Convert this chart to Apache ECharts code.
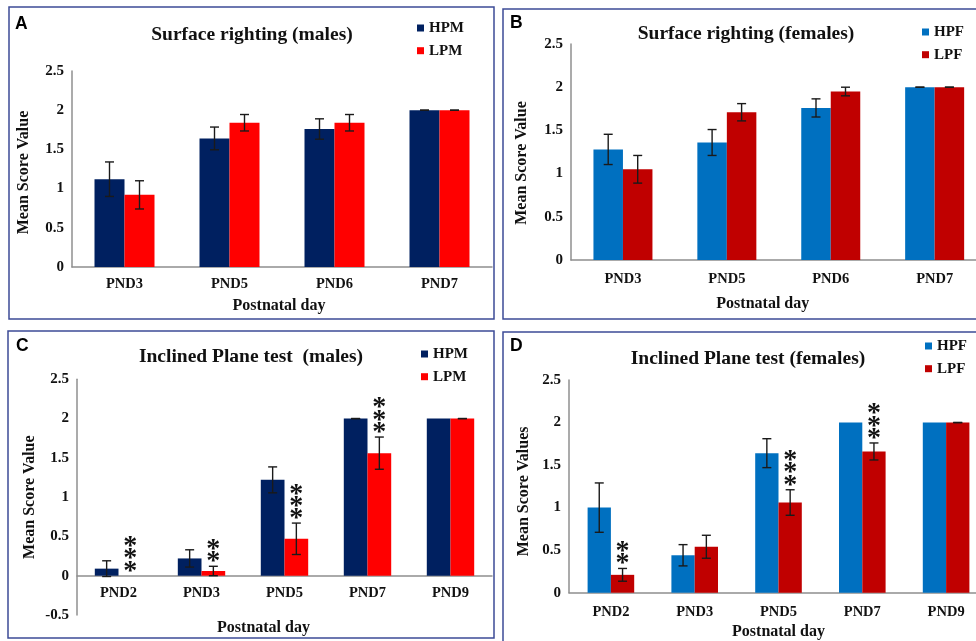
<!DOCTYPE html>
<html><head><meta charset="utf-8">
<script src="https://cdn.jsdelivr.net/npm/echarts@6/dist/echarts.min.js"></script>
<style>html,body{margin:0;padding:0;background:#fff}#c{width:976px;height:641px}</style>
</head><body><div id="c"></div>
<script>
// ---------- DATA ----------
const catsSR = ['PND3', 'PND5', 'PND6', 'PND7'];
const catsIP = ['PND2', 'PND3', 'PND5', 'PND7', 'PND9'];

// A: Surface righting (males)
const srHPM    = [1.12, 1.64, 1.76, 2.0];
const srHPMErr = [0.22, 0.145, 0.13, 0];
const srLPM    = [0.92, 1.84, 1.84, 2.0];
const srLPMErr = [0.18, 0.105, 0.105, 0];

// B: Surface righting (females)
const srHPF    = [1.28, 1.36, 1.76, 2.0];
const srHPFErr = [0.175, 0.15, 0.105, 0];
const srLPF    = [1.05, 1.71, 1.95, 2.0];
const srLPFErr = [0.16, 0.10, 0.05, 0];

// C: Inclined plane (males)
const ipHPM    = [0.09, 0.22, 1.22, 2.0, 2.0];
const ipHPMErr = [0.10, 0.11, 0.165, 0, null];
const ipLPM    = [0, 0.06, 0.47, 1.56, 2.0];
const ipLPMErr = [null, 0.06, 0.20, 0.205, 0];
const ipMaleStars = ['***', '**', '***', '***', ''];

// D: Inclined plane (females)
const ipHPF    = [1.0, 0.44, 1.64, 2.0, 2.0];
const ipHPFErr = [0.29, 0.125, 0.17, null, null];
const ipLPF    = [0.21, 0.54, 1.06, 1.66, 2.0];
const ipLPFErr = [0.075, 0.135, 0.15, 0.10, 0];
const ipFemaleStars = ['**', '', '***', '***', ''];

// ---------- STYLE ----------
const SERIF = '"Liberation Serif","Times New Roman",serif';
const C_HPM = '#002060', C_LPM = '#ff0000', C_HPF = '#0070c0', C_LPF = '#c00000';
const AXIS_C = '#8f8f8f';
const BORDER_C = '#3d4b96';

const panels = [
  {title: 'Surface righting (males)', tx: 252, ty: 25, cats: catsSR,
   hp: srHPM, hpE: srHPMErr, lp: srLPM, lpE: srLPMErr, stars: null,
   names: ['HPM', 'LPM'], colors: [C_HPM, C_LPM],
   grid: {left: 72, top: 71, width: 420, height: 196}, barW: 30, yMin: 0,
   yName: 'Mean Score Value', yGap: 40, yPad: [0, 7, 0, 0],
   xGap: 31, xPad: [0, 6, 0, 0], lblMargin: 10,
   legend: {left: 417, top: 20.5}},
  {title: 'Surface righting (females)', tx: 746, ty: 24, cats: catsSR,
   hp: srHPF, hpE: srHPFErr, lp: srLPF, lpE: srLPFErr, stars: null,
   names: ['HPF', 'LPF'], colors: [C_HPF, C_LPF],
   grid: {left: 571, top: 44, width: 415.6, height: 216}, barW: 29.5, yMin: 0,
   yName: 'Mean Score Value', yGap: 41, yPad: [0, 22, 0, 0],
   xGap: 35.5, xPad: [0, 32, 0, 0], lblMargin: 11.5,
   legend: {left: 922, top: 24.5}},
  {title: 'Inclined Plane test  (males)', tx: 251, ty: 347, cats: catsIP,
   hp: ipHPM, hpE: ipHPMErr, lp: ipLPM, lpE: ipLPMErr, stars: ipMaleStars,
   names: ['HPM', 'LPM'], colors: [C_HPM, C_LPM],
   grid: {left: 77, top: 379.3, width: 415, height: 235.7}, barW: 23.7, yMin: -0.5,
   yName: 'Mean Score Value', yGap: 39.5, yPad: [0, 0, 0, 0],
   xGap: 44.5, xPad: [0, 42, 0, 0], lblMargin: 10,
   legend: {left: 421, top: 346.5}},
  {title: 'Inclined Plane test (females)', tx: 748, ty: 348.5, cats: catsIP,
   hp: ipHPF, hpE: ipHPFErr, lp: ipLPF, lpE: ipLPFErr, stars: ipFemaleStars,
   names: ['HPF', 'LPF'], colors: [C_HPF, C_LPF],
   grid: {left: 569, top: 380, width: 419, height: 212.7}, barW: 23.3, yMin: 0,
   yName: 'Mean Score Values', yGap: 37, yPad: [0, 10, 0, 0],
   xGap: 31, xPad: [0, 0, 0, 0], lblMargin: 12.3,
   legend: {left: 925, top: 338.5}}
];

function errRender(barW) {
  return function (params, api) {
    const i = api.value(0), m = api.value(1), e = api.value(2), side = api.value(3);
    const hi = api.coord([i, m + e]), lo = api.coord([i, m - e]);
    const x = hi[0] + side * barW / 2;
    const cap = 4.5;
    const st = {stroke: '#1a1a1a', lineWidth: 1.4};
    return {type: 'group', children: [
      {type: 'line', shape: {x1: x, y1: hi[1], x2: x, y2: lo[1]}, style: st},
      {type: 'line', shape: {x1: x - cap, y1: hi[1], x2: x + cap, y2: hi[1]}, style: st},
      {type: 'line', shape: {x1: x - cap, y1: lo[1], x2: x + cap, y2: lo[1]}, style: st}
    ]};
  };
}
function starRender(barW) {
  return function (params, api) {
    const i = api.value(0), base = api.value(1), n = api.value(2), side = api.value(3);
    const p = api.coord([i, base]);
    const x = p[0] + side * barW / 2;
    const kids = [];
    for (let k = 0; k < n; k++) {
      kids.push({type: 'text', x: x, y: p[1] + 9.8 - k * 12.3,
        style: {text: '*', fontSize: 28, fontFamily: SERIF, fontWeight: 'bold',
                fill: '#111', align: 'center', verticalAlign: 'bottom'}});
    }
    return {type: 'group', children: kids};
  };
}

const option = {
  backgroundColor: '#ffffff',
  animation: false,
  title: [], legend: [], grid: [], xAxis: [], yAxis: [], series: [],
  graphic: []
};

panels.forEach((P, gi) => {
  // place the category axis on the y=0 line (distance from grid bottom to zero)
  const zeroOffset = -P.grid.height * (0 - P.yMin) / (2.5 - P.yMin);
  option.title.push({text: P.title, left: P.tx, top: P.ty, textAlign: 'center', padding: 0,
    textStyle: {fontFamily: SERIF, fontWeight: 'bold', fontSize: 19.5, color: '#111'}});
  option.legend.push({data: P.names, orient: 'vertical', left: P.legend.left, top: P.legend.top,
    padding: 0, itemWidth: 7, itemHeight: 7, itemGap: 7.7, icon: 'rect', selectedMode: false,
    textStyle: {fontFamily: SERIF, fontWeight: 'bold', fontSize: 15, color: '#111'}});
  option.grid.push(Object.assign({containLabel: false, outerBoundsMode: 'none'}, P.grid));
  option.xAxis.push({type: 'category', gridIndex: gi, data: P.cats, position: 'bottom',
    offset: zeroOffset,
    axisLine: {onZero: false, lineStyle: {color: AXIS_C, width: 1.5}},
    axisTick: {show: false},
    axisLabel: {margin: P.lblMargin, fontFamily: SERIF, fontWeight: 'bold', fontSize: 14.5, color: '#111'},
    name: 'Postnatal day', nameLocation: 'middle', nameGap: P.xGap,
    nameTextStyle: {fontFamily: SERIF, fontWeight: 'bold', fontSize: 16, color: '#111', padding: P.xPad}});
  option.yAxis.push({type: 'value', gridIndex: gi, min: P.yMin, max: 2.5, interval: 0.5,
    axisLine: {show: true, onZero: false, lineStyle: {color: AXIS_C, width: 1.5}},
    axisTick: {show: false}, splitLine: {show: false},
    axisLabel: {margin: 8, fontFamily: SERIF, fontWeight: 'bold', fontSize: 15, color: '#111'},
    name: P.yName, nameLocation: 'middle', nameGap: P.yGap,
    nameTextStyle: {fontFamily: SERIF, fontWeight: 'bold', fontSize: 16, color: '#111', padding: P.yPad}});
  option.series.push({type: 'bar', name: P.names[0], xAxisIndex: gi, yAxisIndex: gi,
    data: P.hp, barWidth: P.barW, barGap: '0%', itemStyle: {color: P.colors[0]}});
  option.series.push({type: 'bar', name: P.names[1], xAxisIndex: gi, yAxisIndex: gi,
    data: P.lp, barWidth: P.barW, barGap: '0%', itemStyle: {color: P.colors[1]}});
  const errData = [];
  P.hp.forEach((v, i) => { if (P.hpE[i] !== null) errData.push([i, v, P.hpE[i], -1]); });
  P.lp.forEach((v, i) => { if (P.lpE[i] !== null) errData.push([i, v, P.lpE[i], 1]); });
  option.series.push({type: 'custom', name: 'err' + gi, xAxisIndex: gi, yAxisIndex: gi,
    renderItem: errRender(P.barW), data: errData, encode: {x: 0, y: 1}, z: 5, silent: true});
  if (P.stars) {
    const sData = [];
    P.stars.forEach((s, i) => {
      if (s.length) sData.push([i, P.lp[i] + (P.lpE[i] || 0), s.length, 1]);
    });
    option.series.push({type: 'custom', name: 'sig' + gi, xAxisIndex: gi, yAxisIndex: gi,
      renderItem: starRender(P.barW), data: sData, encode: {x: 0, y: 1}, z: 6, silent: true});
  }
});

// panel frames and letters
const frames = [
  {x: 9, y: 7, w: 485, h: 312, L: 'A', lx: 15, ly: 15},
  {x: 503, y: 9, w: 490, h: 310, L: 'B', lx: 510, ly: 14},
  {x: 8, y: 331, w: 486, h: 307, L: 'C', lx: 16, ly: 337},
  {x: 503, y: 332, w: 490, h: 330, L: 'D', lx: 510, ly: 337}
];
frames.forEach(f => {
  option.graphic.push({type: 'rect', shape: {x: f.x, y: f.y, width: f.w, height: f.h},
    style: {fill: 'none', stroke: BORDER_C, lineWidth: 1.5}, z: 0, silent: true});
  option.graphic.push({type: 'text', x: f.lx, y: f.ly,
    style: {text: f.L, font: 'bold 17.5px "Liberation Sans", Arial, sans-serif', fill: '#000',
            align: 'left', verticalAlign: 'top'}, z: 10});
});

const chart = echarts.init(document.getElementById('c'), null, {renderer: 'canvas'});
chart.setOption(option);
</script></body></html>
